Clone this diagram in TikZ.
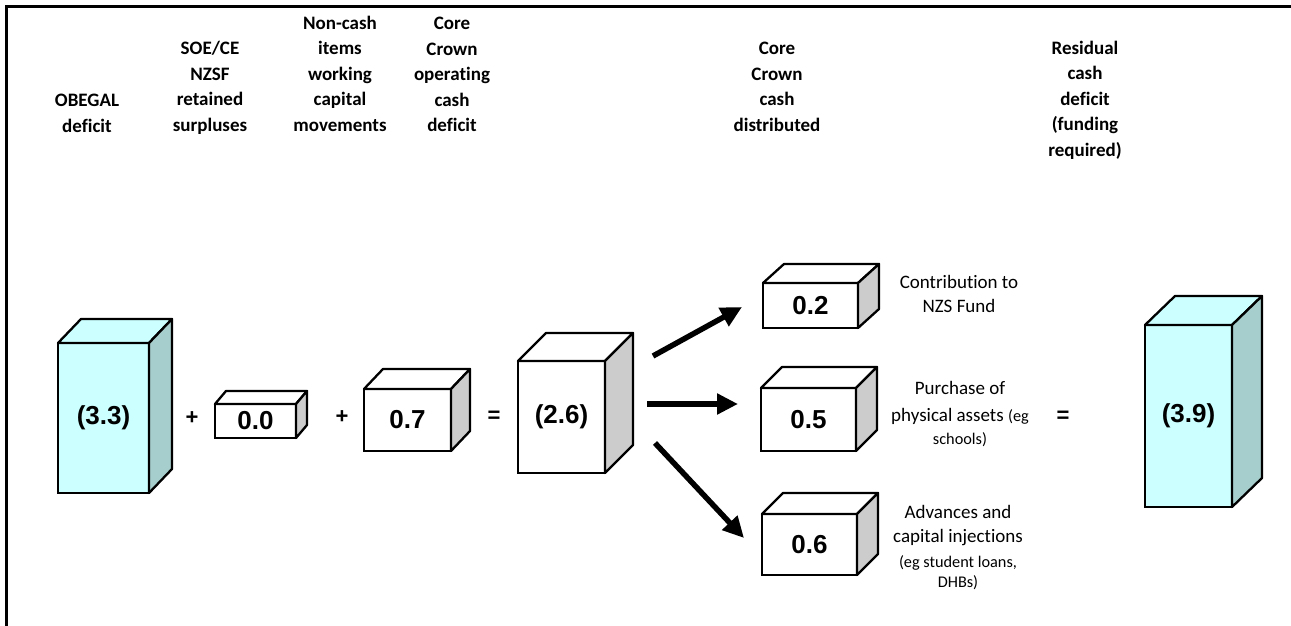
\documentclass[tikz,border=0pt]{standalone}
\usepackage{fontspec}
\setmainfont{Carlito}[RawFeature=-liga]
\newfontfamily\arialfont{Liberation Sans}
\usetikzlibrary{arrows.meta}
\definecolor{cyanA}{HTML}{CCFFFF}
\definecolor{cyanB}{HTML}{A6CECC}
\definecolor{greyB}{HTML}{CCCCCC}
\tikzset{
  frontface/.style={draw, line width=2.3pt, outer sep=0pt, inner sep=0pt,
    font=\arialfont\bfseries\fontsize{26}{30}\selectfont},
  faceedge/.style={draw, line width=2.3pt, line join=round},
  cyanfront/.style={fill=cyanA}, cyantop/.style={fill=cyanA}, cyanside/.style={fill=cyanB},
  whitefront/.style={fill=white}, whitetop/.style={fill=white}, whiteside/.style={fill=greyB},
  head/.style={font=\bfseries\fontsize{19}{25.5}\selectfont, align=center, inner sep=0pt, anchor=north},
  note/.style={font=\fontsize{19}{24.5}\selectfont, align=center, inner sep=0pt, anchor=north},
  op/.style={font=\arialfont\bfseries\fontsize{22}{22}\selectfont, inner sep=0pt},
  bigarrow/.style={line width=5.5pt, -{Triangle[length=21pt,width=20pt]}},
  frameline/.style={line width=3pt},
}
\newcommand\smalltxt{\fontsize{16.3}{19}\selectfont}
\newcommand\cuboid[9]{%
  \node[frontface,#2front,minimum width={(#5)-(#3)},minimum height={(#6)-(#4)}]
    (#1) at ({((#3)+(#5))/2},{((#4)+(#6))/2}) {#9};
  \draw[faceedge,#2top] (#1.north west) -- ++(#7,-#8) -- ++({(#5)-(#3)},0) -- (#1.north east) -- cycle;
  \draw[faceedge,#2side] (#1.north east) -- ++(#7,-#8) -- ++(0,{(#6)-(#4)}) -- (#1.south east) -- cycle;
}
\begin{document}
\begin{tikzpicture}[x=1pt,y=-1pt]
\useasboundingbox (0,0) rectangle (1291,626);
\draw[frameline] (6,626) -- (6,6.5) -- (1291,6.5);

% headers
\node[head] (hobegal) at (87,93.9) {OBEGAL\\deficit};
\node[head] (hsoe) at (210,41) {SOE/CE\\NZSF\\retained\\surpluses};
\node[head] (hnoncash) at (340,15.8) {Non-cash\\items\\working\\capital\\movements};
\node[head] (hcore) at (452,16.9) {Core\\Crown\\operating\\cash\\deficit};
\node[head] (hdist) at (777,41.9) {Core\\Crown\\cash\\distributed};
\node[head] (hresid) at (1085,40.8) {Residual\\cash\\deficit\\(funding\\required)};

% cuboids
\cuboid{b33}{cyan}{58}{343}{149}{493}{23}{24}{(3.3)}
\cuboid{b00}{white}{215}{404}{296}{438}{11}{13}{0.0}
\cuboid{b07}{white}{364}{389}{451}{451}{19}{20}{0.7}
\cuboid{b26}{white}{518}{361}{605}{473}{28}{28}{(2.6)}
\cuboid{b02}{white}{763}{283}{858}{328}{21}{19}{0.2}
\cuboid{b05}{white}{761}{388}{856}{451}{21}{21}{0.5}
\cuboid{b06}{white}{762}{514}{857}{575}{21}{21}{0.6}
\cuboid{b39}{cyan}{1145}{325}{1232}{507}{30}{29}{(3.9)}

% operators
\node[op] (plus1) at (192,418) {+};
\node[op] (plus2) at (342,417) {+};
\node[op] (eq1) at (494,417) {=};
\node[op] (eq2) at (1063,417) {=};

% arrows
\coordinate (ua) at (653,356); \coordinate (ub) at (742,307);
\coordinate (ma) at (647,404); \coordinate (mb) at (738,404);
\coordinate (la) at (655,443); \coordinate (lb) at (744,538);
\draw[bigarrow] (ua) -- (ub);
\draw[bigarrow] (ma) -- (mb);
\draw[bigarrow] (la) -- (lb);

% notes
\node[note] (n02) at (959,274.8) {Contribution to\\NZS Fund};
\node[note] (n05) at (960,380.8) {Purchase of\\[2.5pt]physical assets {\smalltxt(eg}\\[-1.5pt]{\smalltxt schools)}};
\node[note] (n06) at (958,504.8) {Advances and\\capital injections\\{\smalltxt(eg student loans,}\\[-4.5pt]{\smalltxt DHBs)}};
\end{tikzpicture}
\end{document}
